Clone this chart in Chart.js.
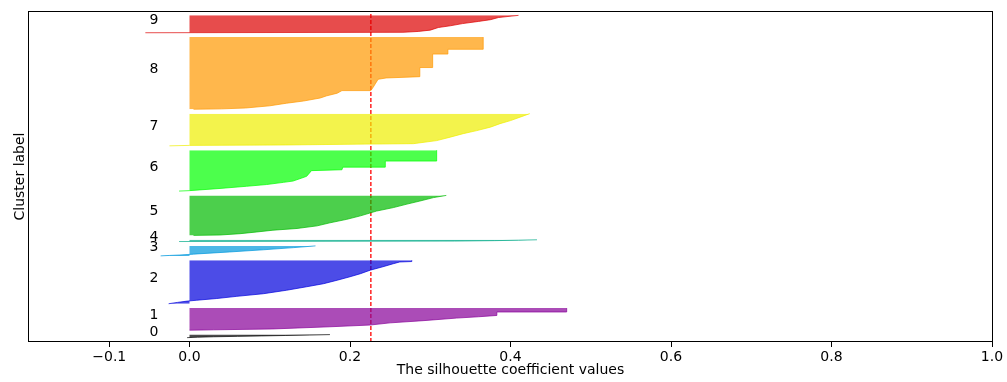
<!DOCTYPE html>
<html>
<head>
<meta charset="utf-8">
<script src="https://cdn.jsdelivr.net/npm/chart.js@4.4.0/dist/chart.umd.min.js"></script>
<style>
  body { margin: 0; background: #fff; }
</style>
</head>
<body>
<canvas id="silhouetteChart" width="1007" height="382"></canvas>
<script>
// cluster labels and number of samples per cluster
const clusterLabels = ['0', '1', '2', '3', '4', '5', '6', '7', '8', '9'];
const clusterSizes = [7, 51, 100, 23, 4, 92, 94, 74, 166, 40];

// sorted silhouette values per cluster, as [sample rank, value]
const silhouette0 = [[0, -0.003], [1, 0.01], [2, 0.03], [3, 0.06], [4, 0.09], [5, 0.12], [6, 0.15], [7, 0.175]];
const silhouette1 = [[0, 0.0], [1, 0.03], [3, 0.104], [8, 0.175], [12, 0.225], [17, 0.25], [22, 0.291], [28, 0.333], [31, 0.36], [34, 0.383], [42, 0.383], [42, 0.47], [51, 0.47]];
const silhouette2 = [[0, -0.026], [3, -0.015], [6, -0.003], [8, 0.009], [12, 0.034], [17, 0.059], [23, 0.092], [31, 0.121], [39, 0.146], [46, 0.167], [54, 0.184], [62, 0.2], [69, 0.213], [77, 0.225], [85, 0.241], [92, 0.254], [96, 0.262], [97, 0.277], [100, 0.277]];
const silhouette3 = [[0, -0.036], [1, -0.025], [2, -0.012], [3, -0.003], [4, 0.005], [9, 0.05], [14, 0.092], [19, 0.13], [23, 0.157]];
const silhouette4 = [[0, -0.013], [1, 0.33], [2, 0.38], [3, 0.41], [4, 0.433]];
const silhouette5 = [[0, 0.005], [1, 0.038], [4, 0.063], [8, 0.084], [12, 0.104], [16, 0.134], [22, 0.159], [29, 0.175], [37, 0.196], [45, 0.213], [56, 0.233], [64, 0.254], [72, 0.271], [79, 0.287], [87, 0.304], [92, 0.32]];
const silhouette6 = [[0, -0.013], [1, 0.0], [6, 0.038], [11, 0.071], [15, 0.096], [20, 0.117], [23, 0.129], [30, 0.14], [34, 0.146], [47, 0.152], [49, 0.19], [55, 0.191], [55, 0.244], [69, 0.244], [69, 0.308], [94, 0.308]];
const silhouette7 = [[0, -0.025], [1, 0.0], [2, 0.12], [4, 0.22], [5, 0.279], [12, 0.308], [20, 0.325], [28, 0.341], [35, 0.358], [43, 0.375], [51, 0.387], [58, 0.4], [66, 0.412], [74, 0.424]];
const silhouette8 = [[0, 0.005], [1, 0.04], [3, 0.07], [8, 0.1], [14, 0.121], [19, 0.142], [26, 0.163], [31, 0.171], [37, 0.184], [43, 0.19], [43, 0.226], [51, 0.229], [60, 0.232], [69, 0.235], [72, 0.245], [75, 0.287], [96, 0.287], [96, 0.303], [127, 0.303], [127, 0.322], [138, 0.322], [138, 0.366], [166, 0.366]];
const silhouette9 = [[0, -0.055], [1, 0.266], [3, 0.285], [6, 0.3], [12, 0.31], [16, 0.325], [21, 0.34], [26, 0.36], [30, 0.375], [35, 0.385], [40, 0.41]];

const silhouetteAvg = 0.226;
const xTicks = [-0.1, 0, 0.2, 0.4, 0.6, 0.8, 1.0];

// nipy_spectral colours, alpha 0.7
const clusterColors = [
    'rgba(0, 0, 0, 0.7)', 'rgba(136, 0, 153, 0.7)', 'rgba(0, 0, 221, 0.7)', 'rgba(0, 153, 221, 0.7)',
    'rgba(0, 170, 136, 0.7)', 'rgba(0, 187, 0, 0.7)', 'rgba(0, 255, 0, 0.7)', 'rgba(238, 238, 0, 0.7)',
    'rgba(255, 153, 0, 0.7)', 'rgba(221, 0, 0, 0.7)'
];

const profiles = [silhouette0, silhouette1, silhouette2, silhouette3, silhouette4,
                  silhouette5, silhouette6, silhouette7, silhouette8, silhouette9];

const FONT = "'DejaVu Sans', sans-serif";

let yLower = 10;
const datasets = [];
const labelSpots = [];
profiles.forEach(function(prof, i) {
    const base = yLower;
    datasets.push({
        data: prof.map(p => ({ x: p[1], y: base + p[0] })),
        borderColor: clusterColors[i],
        backgroundColor: clusterColors[i],
        borderWidth: 1,
        fill: 'origin',
        pointRadius: 0,
        tension: 0
    });
    labelSpots.push({ text: clusterLabels[i], y: base + 0.5 * clusterSizes[i] });
    yLower += clusterSizes[i] + 10;
});
const yMax = yLower;

// average silhouette score line
datasets.push({
    data: [{ x: silhouetteAvg, y: 0 }, { x: silhouetteAvg, y: yMax }],
    borderColor: 'rgb(255, 0, 0)',
    borderWidth: 1.3,
    borderDash: [4, 2],
    fill: false,
    pointRadius: 0
});

const clusterTextPlugin = {
    id: 'clusterText',
    afterDatasetsDraw(chart) {
        const ctx = chart.ctx;
        const xs = chart.scales.x, ys = chart.scales.y;
        ctx.save();
        ctx.fillStyle = '#000';
        ctx.font = '14px ' + FONT;
        ctx.textAlign = 'left';
        ctx.textBaseline = 'alphabetic';
        labelSpots.forEach(s => {
            ctx.fillText(s.text, xs.getPixelForValue(-0.05), ys.getPixelForValue(s.y));
        });
        ctx.restore();
    }
};

const framePlugin = {
    id: 'frame',
    afterDraw(chart) {
        const a = chart.chartArea;
        const ctx = chart.ctx;
        ctx.save();
        ctx.strokeStyle = '#000';
        ctx.lineWidth = 1;
        ctx.strokeRect(Math.round(a.left) - 0.5, Math.round(a.top) + 0.5,
                       Math.round(a.right - a.left) + 1, Math.round(a.bottom - a.top) - 1);
        ctx.restore();
    }
};

const ctx = document.getElementById('silhouetteChart').getContext('2d');
new Chart(ctx, {
    type: 'line',
    data: { datasets: datasets },
    options: {
        indexAxis: 'y',
        responsive: false,
        animation: false,
        devicePixelRatio: 1,
        layout: { padding: { top: 11, right: 15, bottom: 0, left: 0 } },
        plugins: { legend: { display: false }, tooltip: { enabled: false } },
        scales: {
            x: {
                type: 'linear',
                position: 'bottom',
                min: -0.2,
                max: 1,
                afterBuildTicks: function(scale) {
                    scale.ticks = xTicks.map(v => ({ value: v }));
                },
                afterFit: function(scale) { scale.height = 40; },
                ticks: {
                    color: '#000',
                    font: { family: FONT, size: 14 },
                    padding: 2,
                    maxRotation: 0,
                    autoSkip: false,
                    callback: function(v) {
                        return (v < 0 ? '\u2212' : '') + Math.abs(v).toFixed(1);
                    }
                },
                grid: { drawOnChartArea: false, drawTicks: true, tickLength: 5, color: '#000', lineWidth: 1 },
                border: { display: false },
                title: {
                    display: true,
                    text: 'The silhouette coefficient values',
                    color: '#000',
                    font: { family: FONT, size: 14 },
                    padding: { top: 0, bottom: 3 }
                }
            },
            y: {
                type: 'linear',
                position: 'left',
                min: 0,
                max: yMax,
                ticks: { display: false },
                grid: { display: false },
                border: { display: false },
                afterFit: function(scale) { scale.width = 29; },
                title: {
                    display: true,
                    text: 'Cluster label',
                    color: '#000',
                    font: { family: FONT, size: 14 },
                    padding: { top: 12, bottom: 0 }
                }
            }
        }
    },
    plugins: [clusterTextPlugin, framePlugin]
});
</script>
</body>
</html>
